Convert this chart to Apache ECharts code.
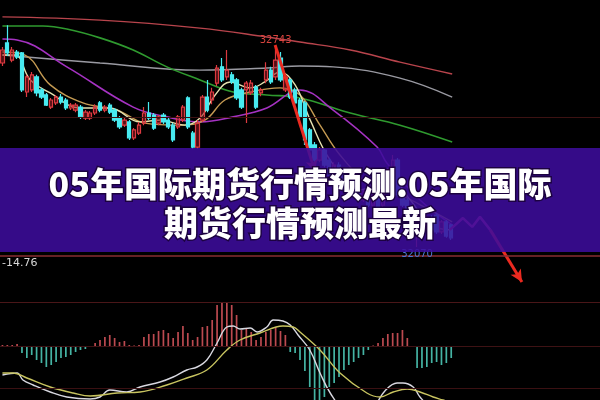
<!DOCTYPE html>
<html><head><meta charset="utf-8">
<script src="https://cdn.jsdelivr.net/npm/echarts@6/dist/echarts.min.js"></script>
<style>html,body{margin:0;padding:0;background:#000;}#c{width:600px;height:400px;}</style>
</head><body><div id="c"></div>
<script>
// ---- data ----
const slotCount = 123;
const categories = Array.from({length: slotCount}, (_, i) => 'D' + (i + 1));

// [open, close, low, high]
const candles = [
 [32692,32736,32682,32746],[32760,32726,32716,32820],[32702,32736,32695,32746],[32729,32712,32706,32736],
 [32726,32601,32594,32729],[32594,32645,32577,32652],[32601,32652,32594,32662],[32645,32591,32580,32652],
 [32601,32577,32570,32608],[32584,32550,32547,32591],[32543,32567,32537,32574],[32557,32577,32550,32584],
 [32577,32560,32553,32587],[32567,32540,32533,32574],[32540,32550,32533,32557],[32533,32550,32526,32557],
 [32543,32510,32503,32550],[32506,32526,32499,32533],[32506,32523,32499,32530],[32523,32543,32516,32553],
 [32557,32533,32526,32564],[32533,32543,32526,32550],[32550,32526,32520,32557],[32533,32499,32493,32540],
 [32506,32476,32469,32513],[32482,32499,32476,32506],[32493,32439,32432,32499],[32439,32466,32432,32472],
 [32455,32482,32449,32493],[32489,32523,32482,32543],[32523,32506,32499,32560],[32516,32472,32466,32523],
 [32489,32510,32482,32516],[32516,32493,32486,32523],[32499,32476,32469,32506],[32482,32432,32425,32489],
 [32476,32510,32469,32516],[32499,32543,32493,32550],[32574,32476,32469,32580],[32455,32408,32401,32462],
 [32408,32489,32401,32499],[32499,32577,32493,32584],[32577,32533,32526,32635],[32567,32594,32553,32608],
 [32624,32675,32614,32685],[32679,32635,32628,32709],[32645,32668,32635,32736],[32652,32628,32621,32662],
 [32635,32574,32567,32641],[32601,32543,32537,32608],[32601,32624,32489,32631],[32591,32624,32584,32635],
 [32611,32543,32537,32618],[32591,32601,32580,32608],[32635,32668,32624,32695],[32668,32628,32621,32679],
 [32645,32702,32635,32743],[32709,32635,32628,32729],[32601,32645,32594,32655],[32635,32577,32570,32641],
 [32601,32557,32550,32608],[32567,32510,32503,32574],[32557,32432,32415,32564],[32466,32398,32381,32472],
 [32415,32364,32357,32425],[32364,32398,32357,32408],[32398,32347,32340,32401],[32364,32313,32307,32371],
 [32324,32347,32313,32357],[32347,32297,32290,32357],[32313,32263,32256,32324],[32270,32297,32263,32307],
 [32290,32246,32239,32297],[32263,32229,32222,32270],[32229,32256,32222,32263],[32256,32212,32205,32263],
 [32212,32246,32205,32256],[32246,32202,32195,32253],[32212,32263,32205,32270],[32263,32330,32256,32337],
 [32313,32364,32307,32381],[32364,32246,32239,32371],[32263,32212,32205,32270],[32229,32178,32172,32236],
 [32195,32145,32138,32202],[32128,32178,32070,32185],[32178,32134,32128,32185],[32134,32168,32128,32178],
 [32168,32128,32121,32178],[32178,32121,32114,32185],[32121,32155,32114,32161],[32155,32107,32101,32161],
 [32145,32101,32094,32148]
];
const peakIdx = 56;

// moving averages: [slot, price]
const ma5 = [[0,32719],[2.6,32719],[5.7,32635],[9.8,32591],[15.9,32540],[22,32540],[28.2,32493],[32.3,32499],[37.4,32482],[40.5,32506],[43.6,32584],[46.7,32628],[50.8,32608],[53.8,32628],[56.9,32662],[60,32618],[63.1,32499],[67.2,32364],[73.3,32263],[79.5,32297],[83.6,32229],[87.7,32145],[92.2,32128]];
const ma10 = [[0,32729],[4.6,32719],[9.8,32618],[16.5,32557],[23.5,32533],[29.2,32489],[36.4,32482],[41.5,32499],[45.6,32567],[50.8,32594],[56.9,32608],[61,32584],[65.1,32482],[69.2,32381],[75.4,32280],[81.5,32246],[87.7,32195],[92.2,32155]];
const ma20 = [[0,32773],[3,32770],[13.2,32679],[26.8,32543],[33.7,32510],[40.5,32493],[47.3,32510],[54.2,32540],[61,32601],[67.8,32533],[76.8,32408],[78.8,32354],[85.6,32229],[92.2,32145]];
const ma60 = [[0,32817],[8.3,32817],[13.2,32807],[20,32777],[26.8,32736],[33.7,32679],[40.5,32635],[47.3,32594],[54.2,32584],[61,32574],[71.3,32523],[81.5,32482],[92.2,32425]];
const ma120 = [[0,32719],[20,32692],[40.5,32668],[54.2,32675],[61,32682],[67.8,32679],[81.5,32641],[92.2,32577]];
const ma250 = [[0,32848],[20,32837],[40.5,32810],[54.2,32780],[61,32763],[71.3,32736],[81.5,32695],[92.2,32655]];

// hand-drawn annotations: [slot, price]
const arrowA = [[55.9,32753],[64.1,32324]];
const zigzag = [[91.7,32128],[94.4,32168],[96.3,32138],[97.9,32172],[100,32128]];
const arrowB = [[100,32128],[106.5,31952]];

// MACD
const macdHist = [1,1,1,2,-7,-12,-9,-14,-17,-21,-19,-16,-12,-11,-9,-6,-4,-3,-1,3,6,9,11,8,4,5,1,0.5,1,9,12,12,15,16,13,8,14,20,13,6,9,19,20,26,41,43,43,41,31,16,17,14,6,9,14,16,19,15,11,-6,-7,-14,-25,-41,-60,-60,-51,-41,-37,-31,-24,-19,-16,-12,-9,-4,0.5,3,8,12,13,13,16,8,-1,-22,-22,-21,-17,-16,-19,-17,-12];
const dif = [[0,-29],[3,-27],[4.2,-34],[6.3,-39],[9.8,-46],[13.2,-51],[18,-53],[20,-51],[22,-44],[25.5,-46],[28.2,-41],[32.3,-36],[35,-31],[37.8,-24],[39.9,-21],[41.9,-14],[44,3],[46,19],[47.3,20],[48.7,17],[50.8,18],[52.2,14],[54.2,19],[55.5,26],[57.5,25],[59,21],[60.6,11],[63,-4],[65.1,-27],[67.2,-47],[70.2,-65],[74.3,-70],[78.4,-45],[80.9,-37],[82.1,-37],[84.2,-41],[85.6,-51],[87.7,-60],[92.2,-65]];
const dea = [[0,-27],[2.2,-27],[5,-32],[9.8,-41],[14.5,-47],[18,-50],[23.5,-47],[28.2,-46],[33.7,-39],[37.8,-32],[41.9,-24],[46,-4],[48.7,6],[52.8,13],[57.5,20],[59.6,19],[61,14],[65.1,-4],[69.2,-27],[74.7,-47],[77.4,-51],[80.1,-46],[83,-43],[85.6,-46],[88.3,-51],[90.3,-54],[92.2,-57]];

const titleLines = ['05年国际期货行情预测:05年国际', '期货行情预测最新'];
const macdReadout = '-14.76';

// ---- chart ----
const chart = echarts.init(document.getElementById('c'));
function maSeries(data, color, w) {
  return {type:'line', xAxisIndex:1, yAxisIndex:0, data, smooth:0.4, symbol:'none',
    lineStyle:{color, width:w || 1.4}, z:3, silent:true};
}
const hidden = {show:false};
const titleStyle = {align:'center', verticalAlign:'middle', fill:'#fff', fontSize:34, fontWeight:900,
  fontFamily:'"Noto Sans CJK SC", sans-serif', stroke:'rgba(20,0,40,0.75)', lineWidth:3, strokeFirst:true,
  shadowBlur:6, shadowColor:'rgba(0,0,0,0.85)'};
chart.setOption({
  backgroundColor:'#000',
  animation:false,
  grid:[{left:0,right:0,top:0,height:300},{left:0,right:0,top:256,height:144}],
  xAxis:[
    {type:'category', gridIndex:0, data:categories, boundaryGap:true, show:false},
    {type:'value', gridIndex:0, min:-0.5, max:slotCount-0.5, show:false},
    {type:'category', gridIndex:1, data:categories, boundaryGap:true, show:false},
    {type:'value', gridIndex:1, min:-0.5, max:slotCount-0.5, show:false}
  ],
  yAxis:[
    {type:'value', gridIndex:0, min:31891, max:32905, show:false, splitLine:hidden},
    {type:'value', gridIndex:1, min:-54, max:90, show:false, splitLine:hidden}
  ],
  series:[
    {type:'candlestick', xAxisIndex:0, yAxisIndex:0, data:candles, barWidth:3.8, z:4,
      itemStyle:{color:'rgba(150,25,35,0.55)', color0:'#48eaf0', borderColor:'#dc3a40', borderColor0:'#48eaf0', borderWidth:1.2},
      markLine:{silent:true, symbol:'none', label:{show:false},
        lineStyle:{color:'#3c1212', width:1, type:'solid'}, data:[{yAxis:32510}]},
      markPoint:{symbol:'circle', symbolSize:0.1, itemStyle:{color:'rgba(0,0,0,0)'},
        label:{formatter:'{c}', fontSize:10, fontFamily:'DejaVu Sans'},
        data:[
          {name:'high', coord:[peakIdx, candles[peakIdx][3]], value:candles[peakIdx][3],
            label:{position:'top', distance:2, color:'#d9443e'}},
          {name:'low', type:'min', valueDim:'lowest',
            label:{position:'bottom', distance:2, color:'#4d78d6'}}
        ]}
    },
    maSeries(ma250, '#b8444c'),
    maSeries(ma120, '#9a9aa2'),
    maSeries(ma60, '#2f9a2f', 1.6),
    maSeries(ma20, '#a532c2', 1.6),
    maSeries(ma10, '#c49a52'),
    maSeries(ma5, '#e6e2b0'),
    {type:'line', xAxisIndex:1, yAxisIndex:0, data:zigzag, symbol:'none',
      lineStyle:{color:'#d2367e', width:2.5}, z:6, silent:true},
    {type:'line', xAxisIndex:1, yAxisIndex:0, data:[], symbol:'none', z:6, silent:true,
      markLine:{silent:true, symbol:['none','arrow'], symbolSize:[9,12], label:{show:false},
        lineStyle:{color:'#ea2a20', width:3, type:'solid'},
        data:[[{coord:arrowA[0]},{coord:arrowA[1]}],[{coord:arrowB[0]},{coord:arrowB[1]}]]}},
    {type:'bar', xAxisIndex:2, yAxisIndex:1, data:macdHist, barWidth:1.7, silent:true,
      itemStyle:{color:p => p.value >= 0 ? '#bc4a50' : '#45b4a4'},
      markLine:{silent:true, symbol:'none', label:{show:false},
        data:[
          {yAxis:90, lineStyle:{color:'#8a2c30', width:1.5, type:'solid'}},
          {yAxis:44, lineStyle:{color:'#4a1618', width:1, type:'solid'}},
          {yAxis:0, lineStyle:{color:'#3e1214', width:1, type:'solid'}},
          {yAxis:-42, lineStyle:{color:'#3a1012', width:1, type:'solid'}}
        ]}},
    {type:'line', xAxisIndex:3, yAxisIndex:1, data:dif, smooth:0.4, symbol:'none',
      lineStyle:{color:'#d8d8e0', width:1.4}, z:3, silent:true},
    {type:'line', xAxisIndex:3, yAxisIndex:1, data:dea, smooth:0.4, symbol:'none',
      lineStyle:{color:'#c8c460', width:1.4}, z:3, silent:true}
  ],
  graphic:[
    {type:'rect', z:100, shape:{x:0, y:148, width:600, height:104},
      style:{fill:'rgba(60,12,155,0.88)'}},
    {type:'text', z:101, x:300, y:184, style:Object.assign({text:titleLines[0]}, titleStyle)},
    {type:'text', z:101, x:300, y:223, style:Object.assign({text:titleLines[1]}, titleStyle)},
    {type:'text', z:101, x:2, y:258, style:{text:macdReadout, fill:'#d8d8d8', fontSize:11, fontFamily:'DejaVu Sans'}}
  ]
});
</script></body></html>
